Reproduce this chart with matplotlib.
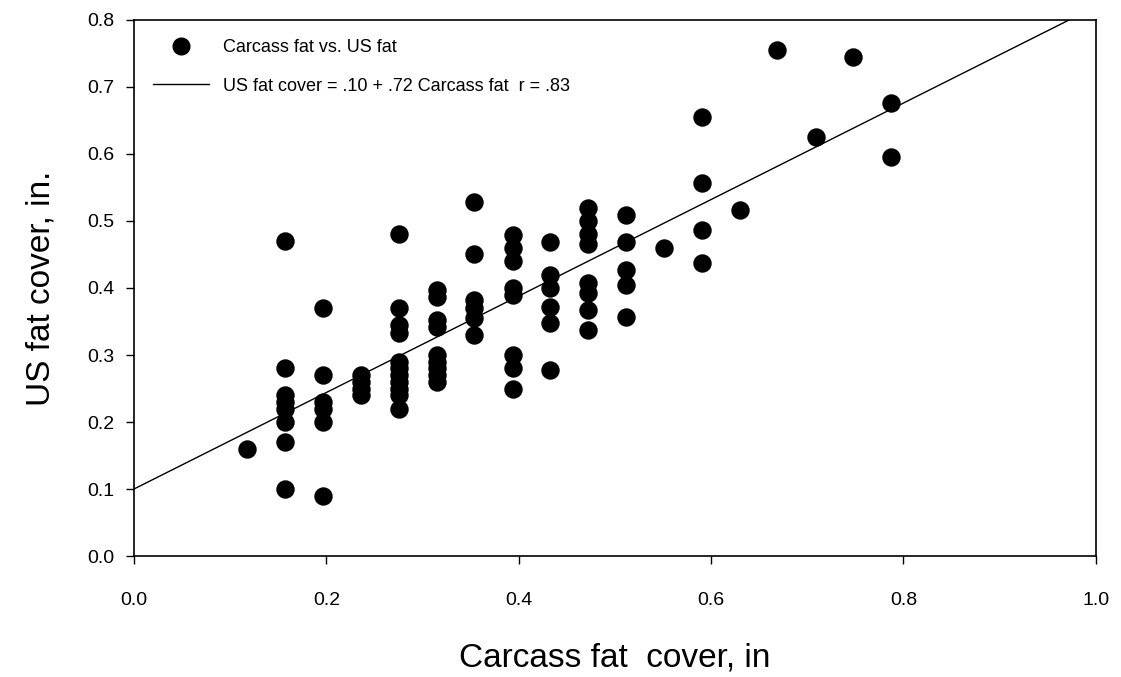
import matplotlib
matplotlib.use("Agg")
import matplotlib.pyplot as plt
from matplotlib.lines import Line2D

plt.rcParams["font.family"] = ["Liberation Sans", "DejaVu Sans"]

# ── Data ──────────────────────────────────────────────────────────────────
# carcass fat in whole mm converted to inches, US fat readings per column
carcass_cols = [0.118, 0.157, 0.197, 0.236, 0.276, 0.315, 0.354, 0.394, 0.433,
                0.472, 0.512, 0.551, 0.591, 0.630, 0.669, 0.709, 0.748, 0.787]
us_fat_cols = [
    [0.16],
    [0.47, 0.28, 0.24, 0.23, 0.22, 0.20, 0.17, 0.10],
    [0.37, 0.27, 0.23, 0.22, 0.20, 0.09],
    [0.27, 0.26, 0.25, 0.24],
    [0.48, 0.37, 0.345, 0.333, 0.29, 0.28, 0.27, 0.26, 0.25, 0.24, 0.22],
    [0.397, 0.387, 0.352, 0.342, 0.30, 0.29, 0.28, 0.27, 0.26],
    [0.528, 0.45, 0.382, 0.37, 0.355, 0.33],
    [0.479, 0.46, 0.44, 0.40, 0.39, 0.30, 0.28, 0.25],
    [0.469, 0.42, 0.40, 0.372, 0.348, 0.278],
    [0.519, 0.50, 0.48, 0.465, 0.407, 0.393, 0.367, 0.337],
    [0.509, 0.469, 0.427, 0.405, 0.357],
    [0.46],
    [0.655, 0.556, 0.487, 0.437],
    [0.516],
    [0.755],
    [0.626],
    [0.745],
    [0.676, 0.596],
]

fit_intercept = 0.10
fit_slope = 0.72
fit_x = [0.0, (0.8 - fit_intercept) / fit_slope]

x_ticks = [0.0, 0.2, 0.4, 0.6, 0.8, 1.0]
y_ticks = [0.0, 0.1, 0.2, 0.3, 0.4, 0.5, 0.6, 0.7, 0.8]

xs = [c for c, col in zip(carcass_cols, us_fat_cols) for _ in col]
ys = [v for col in us_fat_cols for v in col]

# ── Plot ─────────────────────────────────────────────────────────────────
fig = plt.figure(figsize=(11.21, 6.77), dpi=100)
ax = fig.add_axes([0.1195, 0.1787, 0.858, 0.7918])

ax.scatter(xs, ys, s=150, color="black", zorder=3)
ax.plot(fit_x, [fit_intercept + fit_slope * x for x in fit_x],
        color="black", linewidth=1.0, zorder=2)

ax.set_xlim(0, 1.0)
ax.set_ylim(0, 0.8)
ax.set_xticks(x_ticks)
ax.set_yticks(y_ticks)
ax.set_xticklabels([f"{t:.1f}" for t in x_ticks])
ax.set_yticklabels([f"{t:.1f}" for t in y_ticks])
ax.tick_params(direction="out", length=6, width=1, labelsize=14)
ax.tick_params(axis="x", pad=20)
ax.tick_params(axis="y", pad=8)
for sp in ax.spines.values():
    sp.set_linewidth(1.2)

ax.set_xlabel("Carcass fat  cover, in", fontsize=24, labelpad=24)
ax.set_ylabel("US fat cover, in.", fontsize=24, labelpad=22)

handles = [
    Line2D([], [], marker="o", linestyle="none", color="black", markersize=12),
    Line2D([], [], color="black", linewidth=1.0),
]
labels = ["Carcass fat vs. US fat",
          "US fat cover = .10 + .72 Carcass fat  r = .83"]
ax.legend(handles, labels, loc="upper left", frameon=False, fontsize=13,
          handlelength=3.1, borderaxespad=0.7, borderpad=0.35,
          labelspacing=1.2, handletextpad=0.8)

fig.savefig("out.png", dpi=100)
